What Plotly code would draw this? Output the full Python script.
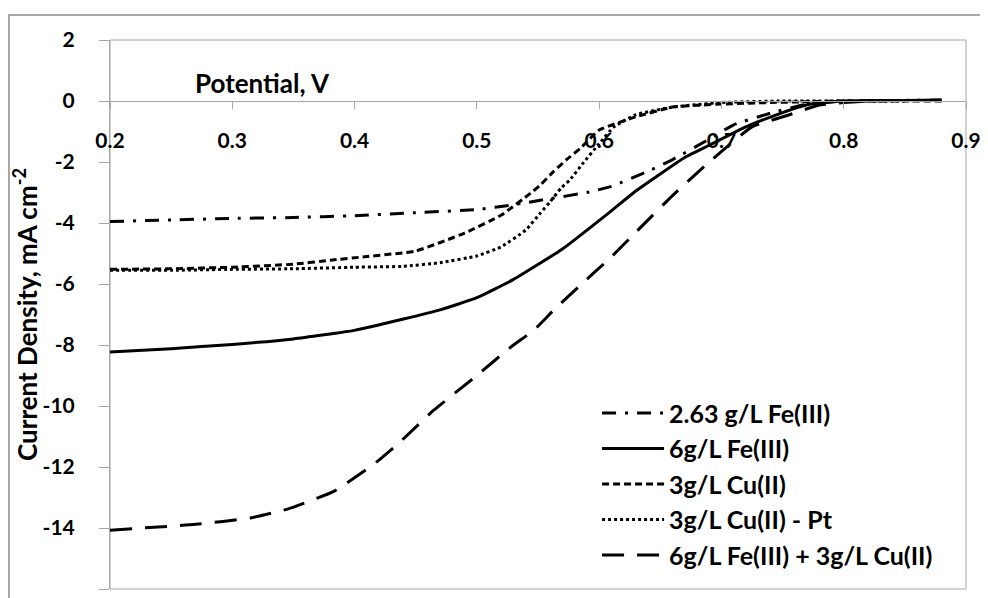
import plotly.graph_objects as go

# ---- data ----
fe263_x = [0.20, 0.25, 0.30, 0.35, 0.40, 0.45, 0.50, 0.53, 0.56, 0.59, 0.61, 0.64, 0.66, 0.69, 0.71, 0.74, 0.77, 0.80, 0.85, 0.88]
fe263_y = [-3.95, -3.90, -3.85, -3.82, -3.76, -3.66, -3.56, -3.40, -3.20, -3.00, -2.80, -2.30, -1.92, -1.25, -0.78, -0.40, -0.10, 0.0, 0.02, 0.03]

fe6_x = [0.20, 0.25, 0.30, 0.35, 0.40, 0.44, 0.47, 0.50, 0.53, 0.57, 0.61, 0.63, 0.67, 0.69, 0.72, 0.75, 0.77, 0.80, 0.85, 0.88]
fe6_y = [-8.23, -8.12, -7.98, -7.80, -7.52, -7.15, -6.85, -6.45, -5.85, -4.85, -3.60, -2.95, -1.85, -1.45, -0.85, -0.38, -0.12, 0.0, 0.02, 0.03]

cu3_x = [0.20, 0.25, 0.30, 0.35, 0.38, 0.41, 0.45, 0.49, 0.52, 0.544, 0.552, 0.563, 0.574, 0.585, 0.60, 0.63, 0.66, 0.70, 0.74, 0.80, 0.85, 0.88]
cu3_y = [-5.52, -5.50, -5.45, -5.35, -5.22, -5.10, -4.92, -4.33, -3.74, -3.02, -2.75, -2.30, -1.90, -1.54, -0.95, -0.52, -0.20, -0.10, -0.05, 0.0, 0.0, 0.0]

cupt_x = [0.20, 0.25, 0.30, 0.35, 0.40, 0.44, 0.47, 0.50, 0.52, 0.54, 0.552, 0.56, 0.569, 0.576, 0.587, 0.60, 0.612, 0.63, 0.66, 0.70, 0.75, 0.80, 0.85]
cupt_y = [-5.55, -5.55, -5.52, -5.50, -5.45, -5.42, -5.30, -5.08, -4.78, -4.23, -3.67, -3.30, -2.85, -2.59, -2.03, -1.40, -0.85, -0.45, -0.20, -0.05, 0.0, 0.0, 0.0]

fecu_x = [0.20, 0.27, 0.315, 0.345, 0.383, 0.416, 0.438, 0.465, 0.50, 0.528, 0.547, 0.563, 0.583, 0.61, 0.63, 0.66, 0.692, 0.725, 0.755, 0.78, 0.82, 0.88]
fecu_y = [-14.07, -13.88, -13.67, -13.38, -12.80, -11.90, -11.15, -10.13, -9.00, -8.06, -7.50, -6.85, -6.10, -5.11, -4.30, -3.10, -1.93, -0.85, -0.46, -0.13, 0.0, 0.02]

names = ["2.63 g/L Fe(III)", "6g/L Fe(III)", "3g/L Cu(II)", "3g/L Cu(II) - Pt", "6g/L Fe(III) + 3g/L Cu(II)"]

x_ticks = [0.2, 0.3, 0.4, 0.5, 0.6, 0.7, 0.8, 0.9]
y_ticks = [2, 0, -2, -4, -6, -8, -10, -12, -14, -16]

FONT = "Lato"

series = [
    (fe263_x, fe263_y, "14px,9px,3px,9px"),
    (fe6_x, fe6_y, "solid"),
    (cu3_x, cu3_y, "7px,4px"),
    (cupt_x, cupt_y, "dot"),
    (fecu_x, fecu_y, "22px,13px"),
]

fig = go.Figure()
for i, (xs, ys, dash) in enumerate(series):
    fig.add_trace(go.Scatter(
        x=xs, y=ys, mode="lines", name=f"<b>{names[i]}</b>", legendgroup=f"g{i}",
        line=dict(color="black", width=3, dash=dash, shape="spline", smoothing=0.4),
    ))

fig.update_layout(
    width=980, height=590,
    margin=dict(l=102, r=22, t=32, b=9, autoexpand=False),
    paper_bgcolor="white", plot_bgcolor="white",
    font=dict(family=FONT, size=21, color="black"),
    showlegend=True,
    legend=dict(
        x=0.569, y=0.362, xanchor="left", yanchor="top",
        font=dict(family=FONT, size=25, color="black"),
        bgcolor="rgba(255,255,255,0)", borderwidth=0,
        itemwidth=62, tracegroupgap=0,
    ),
    xaxis=dict(
        range=[0.2, 0.9], tickvals=x_ticks, ticktext=[f"<b>{v}</b>" for v in x_ticks],
        anchor="free", position=16/18, side="bottom", automargin=False,
        showline=True, linecolor="#a6a6a6", linewidth=1,
        ticks="outside", ticklen=7, tickcolor="#a6a6a6",
        ticklabelstandoff=14,
        showgrid=False, zeroline=False,
        tickfont=dict(family=FONT, size=21, color="black"),
    ),
    yaxis=dict(
        range=[-16, 2], tickvals=y_ticks, ticktext=[f"<b>{v}</b>" for v in y_ticks],
        automargin=False,
        showline=True, linecolor="#a6a6a6", linewidth=1,
        ticks="outside", ticklen=10, tickcolor="#a6a6a6",
        ticklabelstandoff=20,
        showgrid=False, zeroline=False,
        tickfont=dict(family=FONT, size=21, color="black"),
        title=dict(text="<b>Current Density, mA cm<sup>-2</sup></b>",
                   font=dict(family=FONT, size=26, color="black"), standoff=4),
    ),
    annotations=[dict(
        x=0.325, y=0.58, xref="x", yref="y", text="<b>Potential, V</b>", showarrow=False,
        font=dict(family=FONT, size=26, color="black"),
    )],
    shapes=[
        dict(type="rect", xref="paper", yref="paper", x0=0, x1=1, y0=0, y1=1,
             line=dict(color="#a6a6a6", width=1), layer="below"),
        dict(type="rect", xref="paper", yref="paper", x0=-0.118, x1=1.1, y0=-0.1, y1=1.0455,
             line=dict(color="#8c8c8c", width=1.5), layer="below"),
    ],
)

fig.write_html("out.html")
